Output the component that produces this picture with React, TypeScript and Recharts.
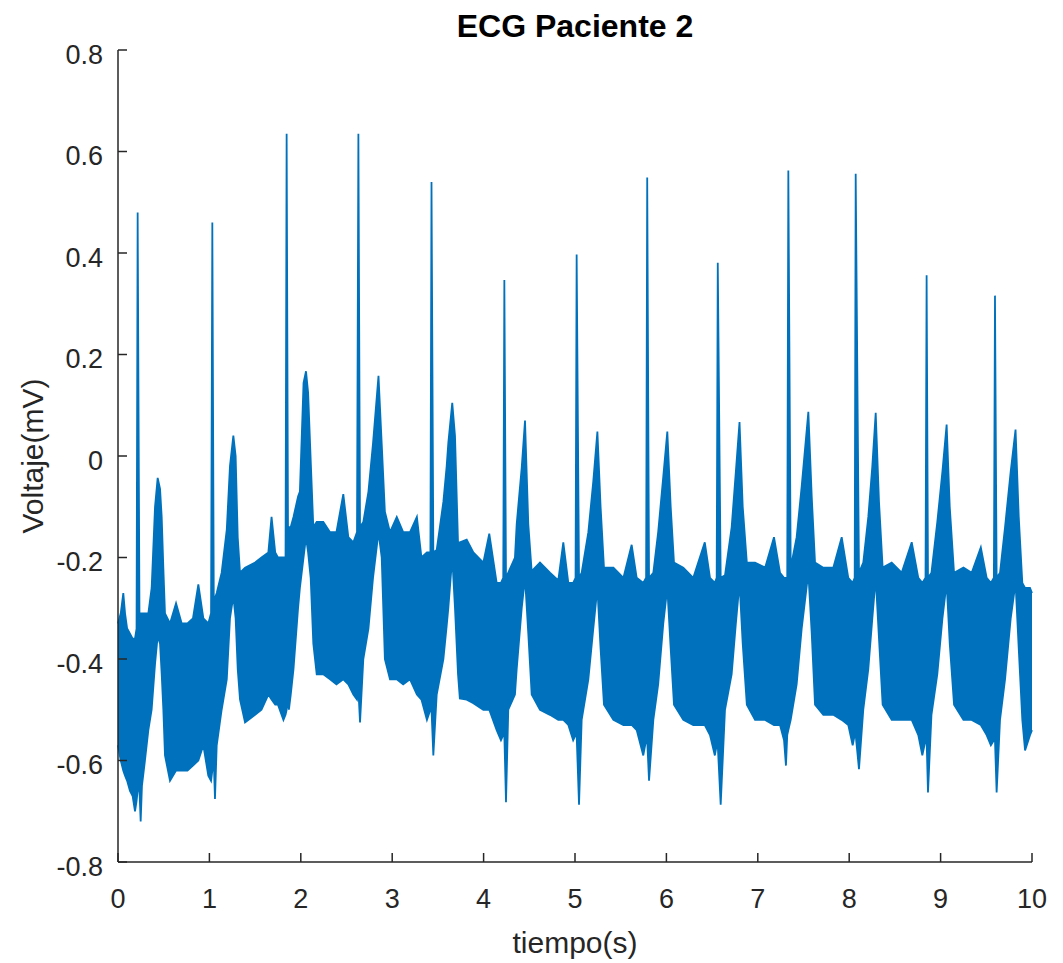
import React from 'react';
import { ComposedChart, Area, XAxis, YAxis } from 'recharts';

// sample times (s)
const time = [
  0.0, 0.03, 0.058, 0.077, 0.1, 0.131, 0.16, 0.186, 0.203,
  0.215, 0.235, 0.248, 0.262, 0.295, 0.332, 0.368, 0.405, 0.434, 0.46, 0.478, 0.496, 0.514, 0.569, 0.635, 0.697, 0.76, 0.82, 0.879, 0.934, 0.988, 1.018,
  1.032, 1.048, 1.061, 1.08, 1.134, 1.19, 1.225, 1.262, 1.287, 1.31, 1.335, 1.39, 1.5, 1.57, 1.645, 1.68, 1.72, 1.75, 1.81, 1.833,
  1.845, 1.86, 1.87, 1.89, 1.92, 1.97, 1.99, 2.03, 2.057, 2.08, 2.108, 2.137, 2.174, 2.246, 2.32, 2.39, 2.465, 2.52, 2.575, 2.615,
  2.63, 2.648, 2.684, 2.74, 2.79, 2.85, 2.885, 2.92, 2.976, 3.05, 3.12, 3.195, 3.27, 3.32, 3.38, 3.418,
  3.43, 3.45, 3.487, 3.56, 3.596, 3.614, 3.657, 3.687, 3.72, 3.74, 3.815, 3.888, 3.997, 4.062, 4.143, 4.19, 4.215,
  4.227, 4.245, 4.27, 4.343, 4.362, 4.417, 4.453, 4.489, 4.526, 4.617, 4.726, 4.817, 4.872, 4.927, 4.98, 5.006,
  5.018, 5.044, 5.073, 5.146, 5.2, 5.245, 5.28, 5.317, 5.42, 5.53, 5.62, 5.675, 5.747, 5.778,
  5.79, 5.81, 5.857, 5.91, 5.966, 6.01, 6.047, 6.083, 6.185, 6.294, 6.42, 6.477, 6.53, 6.55,
  6.562, 6.594, 6.641, 6.714, 6.76, 6.8, 6.835, 6.88, 6.97, 7.08, 7.177, 7.243, 7.287, 7.308, 7.322,
  7.334, 7.36, 7.425, 7.48, 7.553, 7.59, 7.626, 7.717, 7.826, 7.918, 7.99, 8.038, 8.06,
  8.071, 8.107, 8.154, 8.209, 8.253, 8.29, 8.326, 8.366, 8.465, 8.574, 8.684, 8.756, 8.8, 8.835,
  8.847, 8.862, 8.9, 8.964, 9.02, 9.066, 9.1, 9.147, 9.25, 9.34, 9.44, 9.504, 9.55, 9.583,
  9.595, 9.613, 9.65, 9.705, 9.767, 9.82, 9.855, 9.894, 9.924, 9.978, 10.0,
];

// upper edge of the noisy trace (mV), R peaks included
const upper = [
  -0.33, -0.31, -0.27, -0.31, -0.34, -0.35, -0.36, -0.36, -0.34,
  0.48, -0.32, -0.31, -0.31, -0.31, -0.31, -0.26, -0.1, -0.043, -0.065, -0.12, -0.22, -0.31, -0.33, -0.29, -0.33, -0.33, -0.32, -0.253, -0.32, -0.33, -0.31,
  0.46, -0.29, -0.28, -0.27, -0.23, -0.145, -0.02, 0.04, 0.0, -0.16, -0.23, -0.22, -0.21, -0.2, -0.19, -0.12, -0.19, -0.2, -0.2, -0.2,
  0.635, -0.15, -0.14, -0.14, -0.12, -0.08, -0.07, 0.144, 0.167, 0.125, -0.007, -0.14, -0.13, -0.13, -0.15, -0.15, -0.075, -0.16, -0.17, -0.15,
  0.635, -0.14, -0.13, -0.07, 0.025, 0.158, 0.025, -0.11, -0.15, -0.12, -0.15, -0.15, -0.12, -0.2, -0.19, -0.19,
  0.54, -0.19, -0.185, -0.09, -0.02, 0.026, 0.105, 0.04, -0.17, -0.17, -0.165, -0.19, -0.21, -0.153, -0.25, -0.25, -0.24,
  0.347, -0.24, -0.23, -0.2, -0.134, -0.023, 0.07, -0.134, -0.227, -0.21, -0.23, -0.245, -0.17, -0.25, -0.25, -0.24,
  0.397, -0.24, -0.23, -0.15, -0.05, 0.048, -0.1, -0.22, -0.22, -0.24, -0.175, -0.24, -0.25, -0.24,
  0.549, -0.24, -0.23, -0.15, -0.04, 0.048, -0.1, -0.21, -0.22, -0.24, -0.17, -0.24, -0.25, -0.24,
  0.381, -0.24, -0.235, -0.14, -0.03, 0.067, -0.1, -0.21, -0.21, -0.22, -0.16, -0.23, -0.24, -0.24, -0.24,
  0.5625, -0.22, -0.16, -0.06, 0.087, -0.08, -0.21, -0.22, -0.22, -0.16, -0.24, -0.25, -0.24,
  0.556, -0.23, -0.21, -0.12, -0.02, 0.085, -0.09, -0.22, -0.21, -0.23, -0.17, -0.24, -0.25, -0.24,
  0.356, -0.24, -0.23, -0.13, -0.03, 0.062, -0.1, -0.23, -0.22, -0.23, -0.18, -0.24, -0.25, -0.24,
  0.316, -0.24, -0.23, -0.14, -0.03, 0.052, -0.12, -0.25, -0.26, -0.26, -0.27,
];

// lower edge of the noisy trace (mV), S troughs included
const lower = [
  -0.57, -0.6, -0.62, -0.63, -0.64, -0.66, -0.67, -0.7, -0.68,
  -0.66, -0.66, -0.72, -0.65, -0.6, -0.54, -0.5, -0.41, -0.355, -0.37, -0.43, -0.5, -0.59, -0.64, -0.62, -0.62, -0.62, -0.61, -0.6, -0.57, -0.63, -0.64,
  -0.62, -0.6, -0.676, -0.57, -0.5, -0.44, -0.32, -0.276, -0.32, -0.42, -0.48, -0.525, -0.51, -0.5, -0.47, -0.48, -0.49, -0.49, -0.52, -0.51,
  -0.5, -0.48, -0.5, -0.47, -0.42, -0.3, -0.26, -0.2, -0.16, -0.19, -0.24, -0.37, -0.43, -0.43, -0.44, -0.45, -0.44, -0.45, -0.47, -0.48,
  -0.46, -0.525, -0.4, -0.34, -0.24, -0.15, -0.2, -0.4, -0.44, -0.44, -0.45, -0.44, -0.47, -0.48, -0.52, -0.5,
  -0.5, -0.59, -0.47, -0.4, -0.335, -0.3, -0.2, -0.3, -0.43, -0.478, -0.48, -0.487, -0.5, -0.5, -0.54, -0.56, -0.55,
  -0.55, -0.682, -0.5, -0.47, -0.42, -0.3, -0.24, -0.35, -0.47, -0.5, -0.51, -0.52, -0.52, -0.53, -0.56, -0.55,
  -0.55, -0.687, -0.52, -0.44, -0.34, -0.26, -0.38, -0.49, -0.52, -0.53, -0.53, -0.54, -0.59, -0.56,
  -0.56, -0.64, -0.52, -0.45, -0.33, -0.26, -0.38, -0.49, -0.52, -0.53, -0.53, -0.55, -0.59, -0.57,
  -0.57, -0.687, -0.5, -0.43, -0.33, -0.25, -0.37, -0.49, -0.52, -0.52, -0.53, -0.53, -0.56, -0.61, -0.55,
  -0.54, -0.52, -0.45, -0.34, -0.23, -0.35, -0.49, -0.51, -0.51, -0.52, -0.53, -0.57, -0.55,
  -0.55, -0.617, -0.5, -0.42, -0.32, -0.24, -0.36, -0.49, -0.52, -0.52, -0.52, -0.55, -0.59, -0.56,
  -0.56, -0.663, -0.51, -0.43, -0.32, -0.25, -0.37, -0.49, -0.52, -0.52, -0.53, -0.55, -0.57, -0.56,
  -0.56, -0.663, -0.52, -0.44, -0.32, -0.25, -0.38, -0.52, -0.58, -0.55, -0.54,
];

const timeTicks = [0, 1, 2, 3, 4, 5, 6, 7, 8, 9, 10];
const voltTicks = [-0.8, -0.6, -0.4, -0.2, 0, 0.2, 0.4, 0.6, 0.8];

const data = time.map((t, i) => ({ t, ecg: [lower[i], upper[i]] }));

const FONT = '"Liberation Sans", Arial, Helvetica, sans-serif';
const AXIS = '#262626';

export default function App() {
  return (
    <div style={{ position: 'absolute', left: 0, top: 0, width: 1063, height: 963, background: '#fff', fontFamily: FONT }}>
      <ComposedChart width={1063} height={963} data={data} margin={{ top: 50, right: 31, bottom: 71, left: 58 }}>
        <XAxis
          type="number"
          dataKey="t"
          domain={[0, 10]}
          ticks={timeTicks}
          stroke={AXIS}
          strokeWidth={1.5}
          tickSize={-9}
          tickMargin={36}
          tick={{ fill: AXIS, fontSize: 27, fontFamily: FONT }}
          height={30}
        />
        <YAxis
          type="number"
          domain={[-0.8, 0.8]}
          ticks={voltTicks}
          allowDataOverflow
          stroke={AXIS}
          strokeWidth={1.5}
          tickSize={-9}
          tickMargin={24}
          width={60}
          tickFormatter={(v: number) => String(Number(v.toFixed(1)))}
          tick={{ fill: AXIS, fontSize: 27, fontFamily: FONT, dy: 4 }}
        />
        <Area
          type="linear"
          dataKey="ecg"
          stroke="#0072BD"
          strokeWidth={1.8}
          strokeLinejoin="miter"
          fill="#0072BD"
          fillOpacity={1}
          dot={false}
          activeDot={false}
          isAnimationActive={false}
        />
      </ComposedChart>
      <div style={{ position: 'absolute', left: 575, top: 10, transform: 'translateX(-50%)', fontSize: 32, lineHeight: '32px', fontWeight: 'bold', color: '#000', whiteSpace: 'nowrap' }}>
        ECG Paciente 2
      </div>
      <div style={{ position: 'absolute', left: 575, top: 928, transform: 'translateX(-50%)', fontSize: 30, lineHeight: '30px', color: AXIS, whiteSpace: 'nowrap' }}>
        tiempo(s)
      </div>
      <div style={{ position: 'absolute', left: 33, top: 456, transform: 'translate(-50%, -50%) rotate(-90deg)', fontSize: 30, lineHeight: '30px', color: AXIS, whiteSpace: 'nowrap' }}>
        Voltaje(mV)
      </div>
    </div>
  );
}
